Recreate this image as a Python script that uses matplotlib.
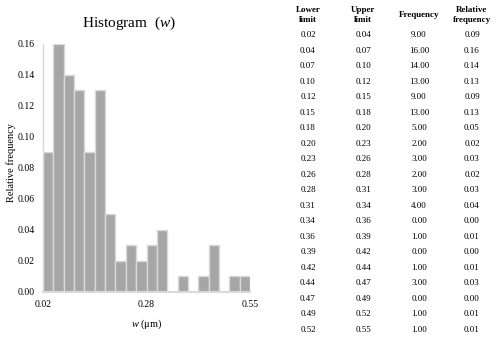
import numpy as np
import matplotlib.pyplot as plt

plt.rcParams['font.family'] = ['Liberation Serif', 'DejaVu Serif']
plt.rcParams['mathtext.fontset'] = 'custom'
plt.rcParams['mathtext.it'] = 'Liberation Serif:italic'
plt.rcParams['mathtext.rm'] = 'Liberation Serif'

lower = [0.02, 0.04, 0.07, 0.10, 0.12, 0.15, 0.18, 0.20, 0.23, 0.26,
         0.28, 0.31, 0.34, 0.36, 0.39, 0.42, 0.44, 0.47, 0.49, 0.52]
upper = [0.04, 0.07, 0.10, 0.12, 0.15, 0.18, 0.20, 0.23, 0.26, 0.28,
         0.31, 0.34, 0.36, 0.39, 0.42, 0.44, 0.47, 0.49, 0.52, 0.55]
freq = [9, 16, 14, 13, 9, 13, 5, 2, 3, 2, 3, 4, 0, 1, 0, 1, 3, 0, 1, 1]
relfreq = [0.09, 0.16, 0.14, 0.13, 0.09, 0.13, 0.05, 0.02, 0.03, 0.02,
           0.03, 0.04, 0.00, 0.01, 0.00, 0.01, 0.03, 0.00, 0.01, 0.01]
xtick_labels = ['0.02', '0.28', '0.55']

fig = plt.figure(figsize=(5, 3.41), dpi=100)
ax = fig.add_axes([0.086, 0.144, 0.414, 0.727])

idx = np.arange(len(relfreq))
ax.bar(idx, relfreq, width=1.0, align='edge', color='#a6a6a6',
       edgecolor='#d9d9d9', linewidth=1.0, zorder=2)
ax.set_xlim(0, len(relfreq))
ax.set_ylim(0, 0.16)
ax.set_yticks(np.arange(0, 0.161, 0.02))
ax.set_yticklabels(['%.2f' % v for v in np.arange(0, 0.161, 0.02)], fontsize=7)
ax.set_xticks([0, 10, 20])
ax.set_xticklabels(xtick_labels, fontsize=7)
ax.tick_params(length=0, pad=6)
for s in ['top', 'right']:
    ax.spines[s].set_visible(False)
ax.spines['left'].set_color('#d9d9d9')
ax.spines['bottom'].set_color('#d9d9d9')
ax.spines['left'].set_linewidth(1.0)
ax.spines['bottom'].set_linewidth(1.5)

ax.set_title('Histogram  ($\\mathit{w}$)', fontsize=11, pad=12, x=0.415)
ax.set_ylabel('Relative frequency', fontsize=7.5)
ax.yaxis.set_label_coords(-0.13, 0.52)
ax.set_xlabel('$\\mathit{w}$ (\u03bcm)', fontsize=7.5, labelpad=6)

# table on the right
cols_x = [308 / 500, 363 / 500, 419 / 500, 472 / 500]
headers = ['Lower\nlimit', 'Upper\nlimit', 'Frequency', 'Relative\nfrequency']
for cx, h in zip(cols_x, headers):
    fig.text(cx, 1 - 15 / 341, h, ha='center', va='center', fontsize=6.5,
             fontweight='bold', linespacing=1.35)

y0 = 35
dy = (330 - 35) / 19
for i in range(len(lower)):
    y = 1 - (y0 + i * dy) / 341
    vals = ['%.2f' % lower[i], '%.2f' % upper[i], '%.2f' % freq[i], '%.2f' % relfreq[i]]
    for cx, v in zip(cols_x, vals):
        fig.text(cx, y, v, ha='center', va='center', fontsize=6.5)

fig.savefig('out.png', dpi=100)
